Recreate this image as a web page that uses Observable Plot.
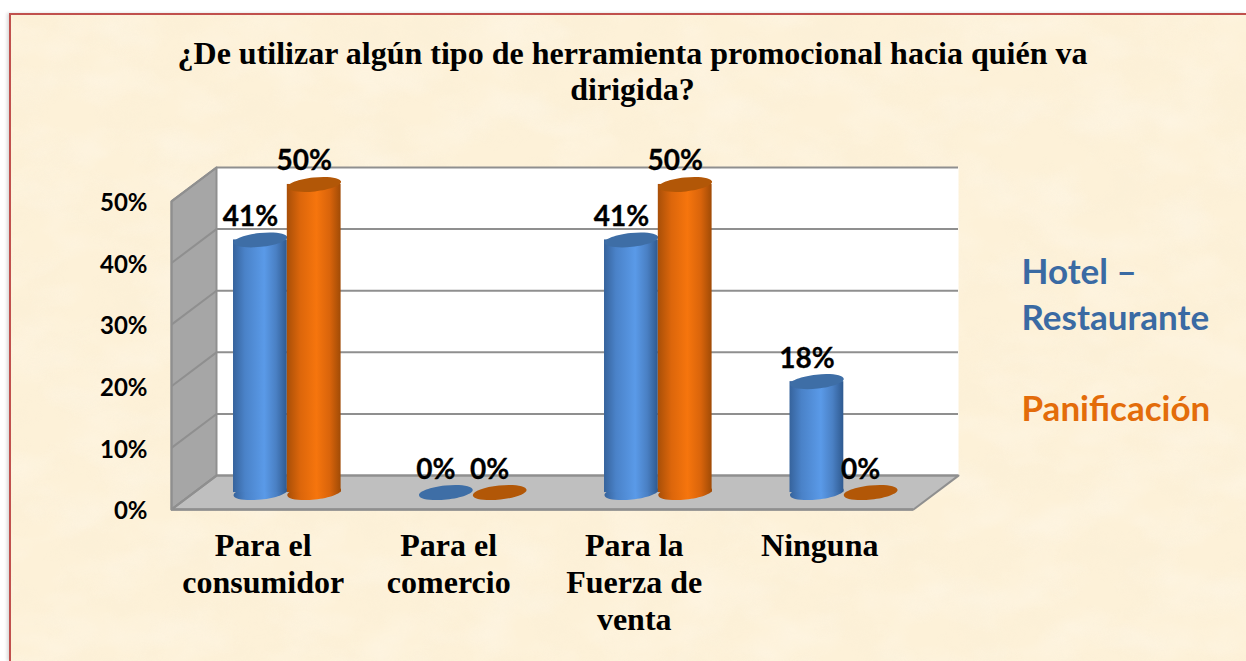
<!DOCTYPE html>
<html><head><meta charset="utf-8">
<script src="https://cdn.jsdelivr.net/npm/d3@7"></script>
<script src="https://cdn.jsdelivr.net/npm/@observablehq/plot@0.6"></script>
<style>
html,body{margin:0;padding:0;background:#fff;width:1246px;height:661px;overflow:hidden}
#paper{position:absolute;left:9px;top:13px;width:1237px;height:648px;box-sizing:border-box;border:2px solid #c0504d;border-right:none;border-bottom:none;background:#fdf1d8;box-shadow:-2px 0 3px rgba(0,0,0,.15)}
#paper svg{position:absolute;left:0;top:0}
#chart{position:absolute;left:0;top:0}
#chart svg{background:transparent;display:block}
</style></head><body>
<div id="paper">
<svg width="1237" height="648"><defs>
<filter id="tex" x="0" y="0" width="100%" height="100%">
<feTurbulence type="fractalNoise" baseFrequency="0.02 0.025" numOctaves="4" seed="7"/>
<feColorMatrix type="matrix" values="0 0 0 0 0.93  0 0 0 0 0.84  0 0 0 0 0.66  1.6 0 0 0 -0.62"/>
</filter>
<filter id="tex2" x="0" y="0" width="100%" height="100%">
<feTurbulence type="fractalNoise" baseFrequency="0.015 0.025" numOctaves="3" seed="23"/>
<feColorMatrix type="matrix" values="0 0 0 0 1  0 0 0 0 0.97  0 0 0 0 0.92  0 1.5 0 0 -0.6"/>
</filter>
</defs>
<rect width="1237" height="648" filter="url(#tex)" opacity="0.32"/>
<rect width="1237" height="648" filter="url(#tex2)" opacity="0.4"/>
</svg></div>
<svg width="0" height="0" style="position:absolute"><defs>
<linearGradient id="blueGrad" x1="0" x2="1" y1="0" y2="0">
<stop offset="0" stop-color="#36639c"/><stop offset="0.22" stop-color="#4a82c8"/><stop offset="0.58" stop-color="#5a9ae8"/><stop offset="0.8" stop-color="#4a80c4"/><stop offset="1" stop-color="#2f5a90"/>
</linearGradient>
<linearGradient id="orangeGrad" x1="0" x2="1" y1="0" y2="0">
<stop offset="0" stop-color="#a84f08"/><stop offset="0.25" stop-color="#dc660b"/><stop offset="0.55" stop-color="#f6750d"/><stop offset="0.8" stop-color="#d9640b"/><stop offset="1" stop-color="#a04b06"/>
</linearGradient>
</defs></svg>
<div id="chart"></div>
<script>
const title = "¿De utilizar algún tipo de herramienta promocional hacia quién va\ndirigida?";
const categories = ["Para el\nconsumidor", "Para el\ncomercio", "Para la\nFuerza de\nventa", "Ninguna"];
const hotelRestaurante = [41, 0, 41, 18];
const panificacion = [50, 0, 50, 0];
const yTicks = [0, 10, 20, 30, 40, 50];
const legendHotel = "Hotel –\nRestaurante";
const legendPan = "Panificación";

// depth of the fake 3D box, in data units of each axis
const depthX = 0.2426, depthY = 5.5, topY = 50;
const barW = 0.29, gap = 0.145;

const rows = [];
categories.forEach((c, i) => {
  rows.push({i, v: hotelRestaurante[i], cx: i + 0.503 + depthX / 2 - gap, s: "blue"});
  rows.push({i, v: panificacion[i], cx: i + 0.503 + depthX / 2 + gap, s: "orange"});
});
const base = depthY / 2;
const grad = {blue: "url(#blueGrad)", orange: "url(#orangeGrad)"};
const dark = {blue: "#3e6ea6", orange: "#b25707"};

// ellipse symbol (slightly tilted), drawn through Plot's dot mark
const ellipse = {
  draw(ctx) {
    const a = 27, b = 7, t = -6 * Math.PI / 180, k = 0.5523;
    const c = Math.cos(t), s = Math.sin(t);
    const P = (x, y) => [x * c - y * s, x * s + y * c];
    ctx.moveTo(...P(a, 0));
    ctx.bezierCurveTo(...P(a, k * b), ...P(k * a, b), ...P(0, b));
    ctx.bezierCurveTo(...P(-k * a, b), ...P(-a, k * b), ...P(-a, 0));
    ctx.bezierCurveTo(...P(-a, -k * b), ...P(-k * a, -b), ...P(0, -b));
    ctx.bezierCurveTo(...P(k * a, -b), ...P(a, -k * b), ...P(a, 0));
    ctx.closePath();
  }
};

const wall = [
  {x: 0, y: 0}, {x: depthX, y: depthY}, {x: depthX, y: topY + depthY}, {x: 0, y: topY}, {x: 0, y: 0}
];
const floor = [
  {x: 0, y: 0}, {x: depthX, y: depthY}, {x: 4 + depthX, y: depthY}, {x: 4, y: 0}, {x: 0, y: 0}
];
const backWall = [
  {x: depthX, y: depthY}, {x: 4 + depthX, y: depthY}, {x: 4 + depthX, y: topY + depthY}, {x: depthX, y: topY + depthY}
];
const gridColor = "#8f8f8f";

// pixel offsets from the plot frame's top-left corner (171, 167)
const L = 171, T = 167;

const marks = [
  Plot.line(backWall, {x: "x", y: "y", fill: "#fff", stroke: "none"}),
  Plot.line(wall, {x: "x", y: "y", fill: "#a6a6a6", stroke: gridColor, strokeWidth: 2}),
  Plot.line(floor, {x: "x", y: "y", fill: "#bfbfbf", stroke: gridColor, strokeWidth: 2}),
  Plot.ruleY(yTicks, {y: d => d + depthY, x1: depthX, x2: 4 + depthX, stroke: gridColor, strokeWidth: 2}),
  Plot.link(yTicks, {x1: 0, y1: d => d, x2: depthX, y2: d => d + depthY, stroke: gridColor, strokeWidth: 2}),
  Plot.ruleY([0], {x1: 0, x2: 4, stroke: gridColor, strokeWidth: 2.5}),
  Plot.ruleX([0], {y1: 0, y2: topY, stroke: gridColor, strokeWidth: 2}),
  Plot.axisY({ticks: yTicks, tickFormat: d => d + "%", tickSize: 0, tickPadding: 24, label: null, dy: 2,
    fontFamily: "Lato", fontWeight: 700, fontSize: 24, fill: "#000", stroke: "#000", strokeWidth: 0.3}),
  Plot.axisX({ticks: categories.map((c, i) => i + 0.5), tickFormat: (d, i) => categories[i], tickSize: 0, tickPadding: 20, label: null, dx: -1,
    fontFamily: "Liberation Serif", fontWeight: 700, fontSize: 32, lineHeight: 1.16, lineAnchor: "top", fill: "#000"})
];

// cylinders, drawn in series order so that the orange overlaps the blue
for (const r of rows) {
  if (r.v > 0) {
    marks.push(
      Plot.dot([r], {x: "cx", y: () => base, symbol: ellipse, fill: grad[r.s], stroke: "none"}),
      Plot.rect([r], {x1: d => d.cx - barW / 2, x2: d => d.cx + barW / 2, y1: () => base, y2: d => d.v + base, fill: grad[r.s], inset: 0})
    );
  }
  marks.push(Plot.dot([r], {x: "cx", y: d => d.v + base, symbol: ellipse, fill: dark[r.s], stroke: "none"}));
}

marks.push(
  Plot.text(rows, {x: "cx", y: d => d.v + base, text: d => d.v + "%", dx: -10, dy: -23,
    fontFamily: "Lato", fontWeight: 700, fontSize: 28, fill: "#000", stroke: "#000", strokeWidth: 0.3}),
  Plot.text([title], {frameAnchor: "top-left", dx: 632 - L, dy: 38 - T, textAnchor: "middle", lineAnchor: "top", lineHeight: 1.13,
    fontFamily: "Liberation Serif", fontWeight: 700, fontSize: 32, fill: "#000"}),
  Plot.text([legendHotel], {frameAnchor: "top-left", dx: 1021 - L, dy: 292 - T, textAnchor: "start", lineAnchor: "middle", lineHeight: 1.31,
    fontFamily: "Lato", fontWeight: 700, fontSize: 35, fill: "#3a6aa3"}),
  Plot.text([legendPan], {frameAnchor: "top-left", dx: 1021 - L, dy: 409 - T, textAnchor: "start", lineAnchor: "middle",
    fontFamily: "Lato", fontWeight: 700, fontSize: 35, fill: "#e36c0a"})
);

const chart = Plot.plot({
  width: 1246, height: 661,
  marginLeft: L, marginRight: 288, marginTop: T, marginBottom: 152,
  x: {domain: [0, 4 + depthX], axis: null},
  y: {domain: [0, topY + depthY], axis: null},
  style: {background: "transparent", overflow: "visible"},
  marks
});
document.getElementById("chart").append(chart);
</script>
</body></html>
